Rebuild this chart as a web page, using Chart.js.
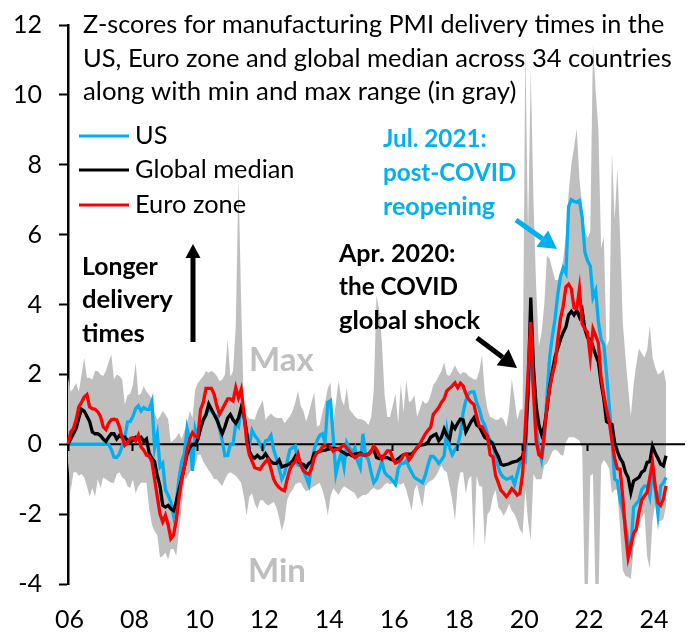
<!DOCTYPE html>
<html>
<head>
<meta charset="utf-8">
<title>PMI delivery times</title>
<script src="https://cdn.jsdelivr.net/npm/chart.js@4"></script>
<style>
  html, body { margin: 0; padding: 0; background: #fff; }
  canvas { display: block; }
</style>
</head>
<body>
<canvas id="chart" width="692" height="637"></canvas>
<script>
// one row per year, monthly from Jan 2006 to Jun 2024
const usValues = [
  0, 0, 0, 0, 0, 0, 0, 0, 0, 0, 0, 0,
  0, 0, 0, 0, -.15, -.37, -.38, -.28, -.05, .2, .64, .65,
  .8, 1.02, 1.1, .95, 1.05, 1, 1, 1.22, -.1, .28, -.65, -.55,
  -1.3, -1.46, -1.65, -2.05, -1.65, -1, -.5, -.27, .45, .1, -.76, .43,
  .15, .5, .7, .85, 1, .95, .85, .8, .45, .1, -.33, -.32,
  0, 0, .6, .5, 1, .75, .3, -.05, .4, .25, .15, 0,
  -.15, .1, .12, .25, -.15, -.4, -.7, -1, -.85, -.5, -.15, -.1,
  -.05, -.6, -.6, -.75, -.95, -1.15, -.6, -.15, .1, .25, .3, .05,
  1.2, 1.25, .2, -.85, -.5, -.25, -.65, .05, -.1, -.25, -.1, -.48,
  -.67, .3, -.35, -.43, -.8, -1.1, -1, -.75, -.5, -.8, -.9, -.95,
  -1.05, -1.15, -.7, -.55, -.55, -.48, -.65, -.8, -.95, -1, -1.05, -1.1,
  -.9, -.6, -.35, -.35, -.43, -.55, -.45, -.33, .4, -.1, -.3, -.15,
  -.05, .3, .9, 1.25, 1.45, 1.5, 1.5, 1.2, 1, .7, .55, .3,
  .1, .05, -.4, -.65, -.86, -.95, -1, -.98, -.94, -1.15, -.85, -.55,
  -.45, -.5, 1.5, 2.3, 1.6, .5, -.1, -.45, .1, 1.4, 2.5, 3.1,
  3.6, 4.3, 4.8, 5.05, 4.9, 6.8, 7, 6.95, 6.93, 6.98, 6.5, 5.5,
  5.25, 5.1, 4.2, 4.4, 3.5, 3, 2.85, 2, 1.1, .15, -1, -1.05,
  -1.6, -1.9, -2.3, -2.8, -3.05, -1.8, -1.7, -1.6, -1.3, -1.2, -1.2, -1.5,
  -.75, -1.3, -2, -1.2, -1.1, -.95
];
const globalValues = [
  0, .15, .3, .45, .75, 1, .95, .8, .65, .35, .3, .3,
  .25, .15, .08, .2, .3, .3, .15, .25, .2, .2, .1, .05,
  .12, .2, .15, .2, .08, .15, -.25, -.4, -.5, -.9, -1.2, -1.75,
  -1.8, -1.75, -1.85, -1.9, -1.65, -1.3, -1, -.65, -.3, -.1, 0, -.02,
  .15, .45, .7, .85, 1.15, 1, .85, .7, .5, .3, .5, .75,
  .85, .7, .6, .75, 1.05, .85, .35, -.2, -.35, -.4, -.32, -.4,
  -.38, -.27, -.4, -.5, -.55, -.55, -.45, -.65, -.62, -.6, -.55, -.48,
  -.35, -.5, -.55, -.58, -.67, -.55, -.5, -.25, -.24, -.2, -.18, -.17,
  -.15, -.12, -.12, -.12, -.14, -.2, -.25, -.3, -.28, -.33, -.28, -.27,
  -.25, -.3, -.3, -.28, -.2, -.15, -.38, -.41, -.35, -.38, -.38, -.42,
  -.45, -.48, -.42, -.35, -.3, -.28, -.28, -.28, -.2, -.1, -.03, -.02,
  0, .05, .2, .25, .29, .1, .2, .43, .25, .15, .57, .45,
  .6, .72, .7, .35, .5, .65, .76, .55, .5, .35, .2, .15,
  .08, 0, -.2, -.35, -.57, -.6, -.58, -.56, -.52, -.5, -.48, -.42,
  -.35, .1, 1.5, 4.2, 2.2, 1.1, .55, .28, .5, 1, 1.65, 2.1,
  2.5, 2.75, 3, 3.2, 3.36, 3.7, 3.8, 3.7, 3.83, 3.64, 3.83, 3.3,
  3.05, 3, 2.8, 2.55, 2.35, 1.75, 1.3, .65, .6, .57, .05, -.2,
  -.4, -.52, -.8, -.95, -1.38, -1.05, -1, -.95, -.8, -.75, -.52, -.5,
  -.05, -.25, -.4, -.57, -.62, -.33
];
const euroValues = [
  0, .35, .45, .7, 1.07, 1.2, 1.35, 1.42, 1.07, 1.02, 1, .93,
  .8, .5, .42, .6, .7, .72, .7, .5, .2, -.03, .04, .16,
  .19, .1, .26, -.08, -.17, -.31, -.34, -.5, -1, -1.5, -2, -2.22,
  -2.03, -2.3, -2.7, -2.6, -2.17, -1.55, -1.03, -.65, -.17, .16, .33, .23,
  .2, 1, 1.2, 1.6, 1.6, 1.6, 1.43, 1.1, .86, 1, 1.15, 1.3,
  1.3, 1.24, 1.62, 1.33, 1.57, .9, .1, -.3, -.48, -.67, -.7, -.72,
  -.6, -.5, -.43, -.7, -1, -1.15, -1.24, -1.3, -1.33, -1, -.72, -.57,
  -.5, -.28, -.6, -.76, -.82, -.86, -.7, -.38, -.25, -.2, -.08, -.03,
  -.03, -.1, -.2, -.14, -.14, -.08, -.02, -.1, -.2, -.3, -.38, -.33,
  -.28, -.3, -.3, -.3, -.2, -.05, -.15, -.3, -.43, -.3, -.19, -.19,
  -.4, -.54, -.5, -.45, -.3, -.28, -.45, -.35, -.2, -.1, 0, .15,
  .29, .4, .48, .86, .95, 1.05, 1.2, 1.3, 1.53, 1.6, 1.67, 1.76,
  1.62, 1.75, 1.67, 1.45, 1.29, 1.2, 1.14, .8, .52, .5, .35, .24,
  -.3, -.36, -.9, -1.1, -1.32, -1.4, -1.5, -1.4, -1.27, -1.35, -1.46, -1.4,
  -.84, .5, 2, 3.5, 1.5, .1, -.3, -.36, .3, 1.1, 1.6, 2,
  2.3, 3, 3.6, 3.95, 4.5, 4.58, 4.45, 3.9, 3.88, 4.45, 3.45, 3.3,
  3.2, 2.5, 3.3, 3.1, 2.9, 1.9, 1.4, 1, .65, .1, -.4, -.7,
  -.72, -1.5, -2.5, -3.24, -2.9, -2.55, -2.43, -1.95, -1.6, -1.48, -1.38, -.95,
  -.52, -1.2, -1.67, -1.75, -1.57, -1.19
];
const maxValues = [
  1.9, 1.5, 1.6, 1.75, 1.5, 2, 2.47, 1.9, 1.9, 1.85, 2.1, 2.1,
  2, 1.95, 2.1, 2.35, 2.57, 1.85, 2, 1.95, 1.85, 1.14, 1.4, 1.45,
  1.7, 2.35, 1.4, 1.45, 1.67, 1.5, 1.42, 1.3, .9, .7, .8, .95,
  .85, .72, .05, .12, .2, .33, .15, .38, .6, .95, .75, 1.57,
  1.75, 1.85, 1.95, 2.1, 2.05, 2.1, 2.05, 1.95, 1.8, 1.85, 2, 3,
  1.93, 2.1, 3.4, 7.6, 4, .97, .85, .73, .72, .7, .95, 1.1,
  1.26, .7, .8, .88, .8, .75, .75, .75, .6, .7, .8, .95,
  1.2, 1.53, 1.1, .95, .65, .9, 1.2, 1.48, .5, .55, .9, 1.2,
  1.6, 1.76, .6, 1.2, 1.81, 1.3, 1.1, 1.62, 1, .9, .8, .72,
  .72, .7, .65, .55, .75, 1.55, 4.25, 3.85, 2.9, 1.4, .78, .78,
  1.1, 1.45, .6, 1.73, .9, 1.83, 1.2, 1.25, 1.4, .78, 1, 1.25,
  1.16, 1.2, 1.4, 1.7, 1.8, 1.95, 2.1, 2.35, 2, 1.95, 2.1, 2.26,
  2.1, 2, 2.07, 2.05, 1.95, 1.9, 1.85, 1.85, 2.1, 2.55, 1.5, 1,
  .78, .75, .7, .7, .78, .7, .5, .95, 1.88, 1.3, .7, .97,
  1, 11.4, 6, 10.7, 7, 4.5, 2.8, 3.2, 4, 5.4, 5.3, 5,
  4.7, 4.7, 4.8, 5.3, 6, 7.2, 8, 8.5, 9.03, 7.6, 6.8, 6.1,
  5.9, 6.1, 11.46, 10.1, 9, 5.6, 5.93, 2.8, 3, 8.36, 6.4, 7.9,
  6, 3.5, 2.5, 1.6, .8, 1.7, 2.3, 2.74, 2.6, 2.48, 2.7, 3.4,
  2.5, 2.2, 2, 2.05, 2.15, 1.76
];
const minValues = [
  -.5, -1.35, -.8, -.8, -.9, -.85, -.95, -1.2, -1.5, -1.25, -1.5, -1,
  -1.25, -.95, -1, -1.05, -1.1, -1.1, -.85, -.8, -.95, -1, -1.2, -1.25,
  -1, -1.4, -1.2, -1.1, -1.1, -1.1, -1.85, -2.3, -2.5, -2.6, -3.24, -3.2,
  -3.1, -3.3, -3, -3, -3.2, -2.5, -1.76, -1, -.95, -.8, -.65, -.6,
  -.3, -.3, -.5, -.62, -.75, -.85, -1, -1, -1.1, -1.2, -1, -.85,
  -.8, -.85, -.9, -1, -1.1, -1.5, -2.05, -1.5, -1.4, -1.7, -1.85, -1.6,
  -1.6, -1.7, -1.75, -1.7, -1.65, -1.8, -2.1, -2.48, -2.2, -1.6, -1.4, -1.3,
  -1.15, -1.1, -1.1, -1.25, -1.35, -1.3, -1.25, -1.2, -1.15, -1.1, -1.3, -1.6,
  -2.05, -1.5, -1.25, -1.35, -1.45, -1.3, -1.2, -1.25, -1.3, -1.35, -1.4, -1.57,
  -1.5, -1.45, -1.45, -1.4, -1.3, -1.25, -1.3, -1.3, -1.25, -1.15, -1.1, -1.15,
  -1.1, -1.1, -1.15, -1.15, -1.1, -1.3, -1.6, -1.9, -1.3, -1.15, -1.5, -1.8,
  -1.2, -1.1, -1.05, -1, -.9, -.75, -.6, -.75, -.8, -1.2, -1.6, -2.2,
  -1.2, -.8, -.8, -1.41, -1, -.9, -2.99, -.9, -1.2, -1.2, -2.89, -2,
  -1.9, -1.5, -1.3, -1.8, -1.9, -2.05, -1.9, -1.7, -1.9, -2, -2.2, -2.45,
  -2.56, -1.3, -2.2, -2.75, -.85, -1, -1, -1, -.6, -.55, -.4, -.2,
  -.15, -.2, -.3, -.33, .05, .2, .2, .2, .15, .1, -.1, -4.5,
  -4.5, -.9, -.85, -4.5, -4.5, -.6, -.45, -.55, -.7, -1.4, -1.3, -1.3,
  -2.4, -3.6, -3.77, -3.8, -3.86, -3, -2.6, -2.34, -2.1, -1.95, -3.2, -3.58,
  -2.2, -1.7, -2.2, -2.2, -2.15, -1.76
];

const years = ["06", "07", "08", "09", "10", "11", "12", "13", "14", "15",
  "16", "17", "18", "19", "20", "21", "22", "23", "24"];
const monthNames = ["01", "02", "03", "04", "05", "06", "07", "08", "09", "10", "11", "12"];
const months = [];
years.forEach((yr) => monthNames.forEach((m) => months.push(yr + "-" + m)));
months.push("25-01"); // axis runs on to Jan 2025

const FONT = "Lato";
const BLUE = "#00B0F0";
const GRAY = "#BFBFBF";

// free text on the plot, x and baseline in pixels
const notes = [
  { text: "Z-scores for manufacturing PMI delivery times in the", x: 83, y: 33, size: 25.2 },
  { text: "US, Euro zone and global median across 34 countries", x: 83, y: 67, size: 25.5 },
  { text: "along with min and max range (in gray)", x: 83, y: 100, size: 25.8 },
  { text: "Longer", x: 82, y: 275, bold: true, size: 24.8 },
  { text: "delivery", x: 82, y: 308, bold: true, size: 25.6 },
  { text: "times", x: 82, y: 342, bold: true, size: 25.6 },
  { text: "Jul. 2021:", x: 383, y: 147, bold: true, color: BLUE, size: 24.2 },
  { text: "post-COVID", x: 383, y: 181, bold: true, color: BLUE, size: 24.2 },
  { text: "reopening", x: 383, y: 215, bold: true, color: BLUE, size: 25 },
  { text: "Apr. 2020:", x: 339, y: 262, bold: true, size: 25 },
  { text: "the COVID", x: 339, y: 295, bold: true, size: 24.3 },
  { text: "global shock", x: 339, y: 329, bold: true, size: 25.6 },
  { text: "Max", x: 249, y: 371, bold: true, color: GRAY, size: 33 },
  { text: "Min", x: 248, y: 582, bold: true, color: GRAY, size: 33 }
];
const arrows = [
  { x1: 193, y1: 342, x2: 193, y2: 244, color: "#000", len: 14, half: 7.5 },
  { x1: 516, y1: 220, x2: 557, y2: 249, color: BLUE, len: 18, half: 10 },
  { x1: 477, y1: 338, x2: 517, y2: 368, color: "#000", len: 18, half: 10 }
];

function drawArrow(ctx, a) {
  const angle = Math.atan2(a.y2 - a.y1, a.x2 - a.x1);
  const bx = a.x2 - a.len * Math.cos(angle);
  const by = a.y2 - a.len * Math.sin(angle);
  ctx.strokeStyle = a.color;
  ctx.fillStyle = a.color;
  ctx.lineWidth = 5;
  ctx.beginPath();
  ctx.moveTo(a.x1, a.y1);
  ctx.lineTo(bx, by);
  ctx.stroke();
  ctx.beginPath();
  ctx.moveTo(a.x2, a.y2);
  ctx.lineTo(bx - a.half * Math.sin(angle), by + a.half * Math.cos(angle));
  ctx.lineTo(bx + a.half * Math.sin(angle), by - a.half * Math.cos(angle));
  ctx.closePath();
  ctx.fill();
}

// zero line has to sit over the gray band but under the three lines
const zeroLine = {
  id: "zeroLine",
  beforeDatasetDraw(chart, args) {
    if (chart.data.datasets[args.index].label !== "US") return;
    const { ctx, chartArea, scales } = chart;
    const y = scales.y.getPixelForValue(0);
    ctx.save();
    ctx.strokeStyle = "#000";
    ctx.lineWidth = 2;
    ctx.beginPath();
    ctx.moveTo(chartArea.left, y);
    ctx.lineTo(chartArea.right, y);
    ctx.stroke();
    ctx.restore();
  }
};

const annotations = {
  id: "annotations",
  afterDraw(chart) {
    const ctx = chart.ctx;
    ctx.save();
    ctx.textBaseline = "alphabetic";
    ctx.textAlign = "left";
    notes.forEach((n) => {
      ctx.font = (n.bold ? "bold " : "") + n.size + "px " + FONT;
      ctx.fillStyle = n.color || "#000";
      ctx.fillText(n.text, n.x, n.y);
    });
    arrows.forEach((a) => drawArrow(ctx, a));

    // legend
    const lines = chart.data.datasets.filter((d) => d.legendY);
    lines.forEach((d) => {
      ctx.strokeStyle = d.borderColor;
      ctx.lineWidth = 3;
      ctx.beginPath();
      ctx.moveTo(79, d.legendY);
      ctx.lineTo(129, d.legendY);
      ctx.stroke();
      ctx.font = "25.4px " + FONT;
      ctx.fillStyle = "#000";
      ctx.fillText(d.label, 135, d.legendY + 8);
    });
    ctx.restore();
  }
};

function lineSet(label, values, color, order, legendY) {
  return {
    label: label,
    data: values,
    borderColor: color,
    borderWidth: 3.3,
    pointRadius: 0,
    tension: 0,
    fill: false,
    order: order,
    legendY: legendY
  };
}

const keepYearStarts = (scale) => {
  scale.ticks = scale.ticks.filter((t) => t.value % 24 === 0);
};

new Chart(document.getElementById("chart"), {
  type: "line",
  plugins: [zeroLine, annotations],
  data: {
    labels: months,
    datasets: [
      lineSet("Euro zone", euroValues, "#FF0000", 1, 205),
      lineSet("Global median", globalValues, "#000000", 2, 170),
      lineSet("US", usValues, BLUE, 3, 136),
      {
        label: "Max",
        data: maxValues,
        borderWidth: 0,
        pointRadius: 0,
        tension: 0,
        fill: { target: 4 },
        backgroundColor: GRAY,
        order: 4
      },
      {
        label: "Min",
        data: minValues,
        borderWidth: 0,
        pointRadius: 0,
        tension: 0,
        fill: false,
        order: 5
      }
    ]
  },
  options: {
    responsive: false,
    animation: false,
    layout: { padding: { top: 25, right: 7, bottom: 0, left: 0 } },
    plugins: {
      legend: { display: false },
      title: { display: false },
      tooltip: { enabled: false }
    },
    scales: {
      x: {
        type: "category",
        afterBuildTicks: keepYearStarts,
        afterFit: (scale) => { scale.height = 53; },
        border: { display: false },
        grid: { display: false },
        ticks: {
          autoSkip: false,
          maxRotation: 0,
          padding: 13,
          labelOffset: 1.5,
          color: "#000",
          font: { family: FONT, size: 25 },
          callback: (value) => months[value].slice(0, 2)
        }
      },
      x2: {
        type: "category",
        position: { y: 0 },
        afterBuildTicks: keepYearStarts,
        border: { display: false },
        grid: {
          drawOnChartArea: false,
          drawTicks: true,
          tickLength: 7,
          tickWidth: 2,
          tickColor: "#000",
          z: 1
        },
        ticks: { display: false, autoSkip: false, maxRotation: 0 }
      },
      y: {
        min: -4,
        max: 12,
        // chart.js adds the tick padding above and below the plot, drop it
        afterFit: (scale) => {
          scale.width = 68;
          scale.paddingTop = 0;
          scale.paddingBottom = 0;
        },
        border: { display: true, color: "#000", width: 2.5 },
        grid: {
          drawOnChartArea: false,
          drawTicks: true,
          tickLength: 9,
          tickWidth: 2,
          tickColor: "#000"
        },
        ticks: {
          stepSize: 2,
          padding: 17,
          color: "#000",
          font: { family: FONT, size: 25 }
        }
      }
    }
  }
});
</script>
</body>
</html>
